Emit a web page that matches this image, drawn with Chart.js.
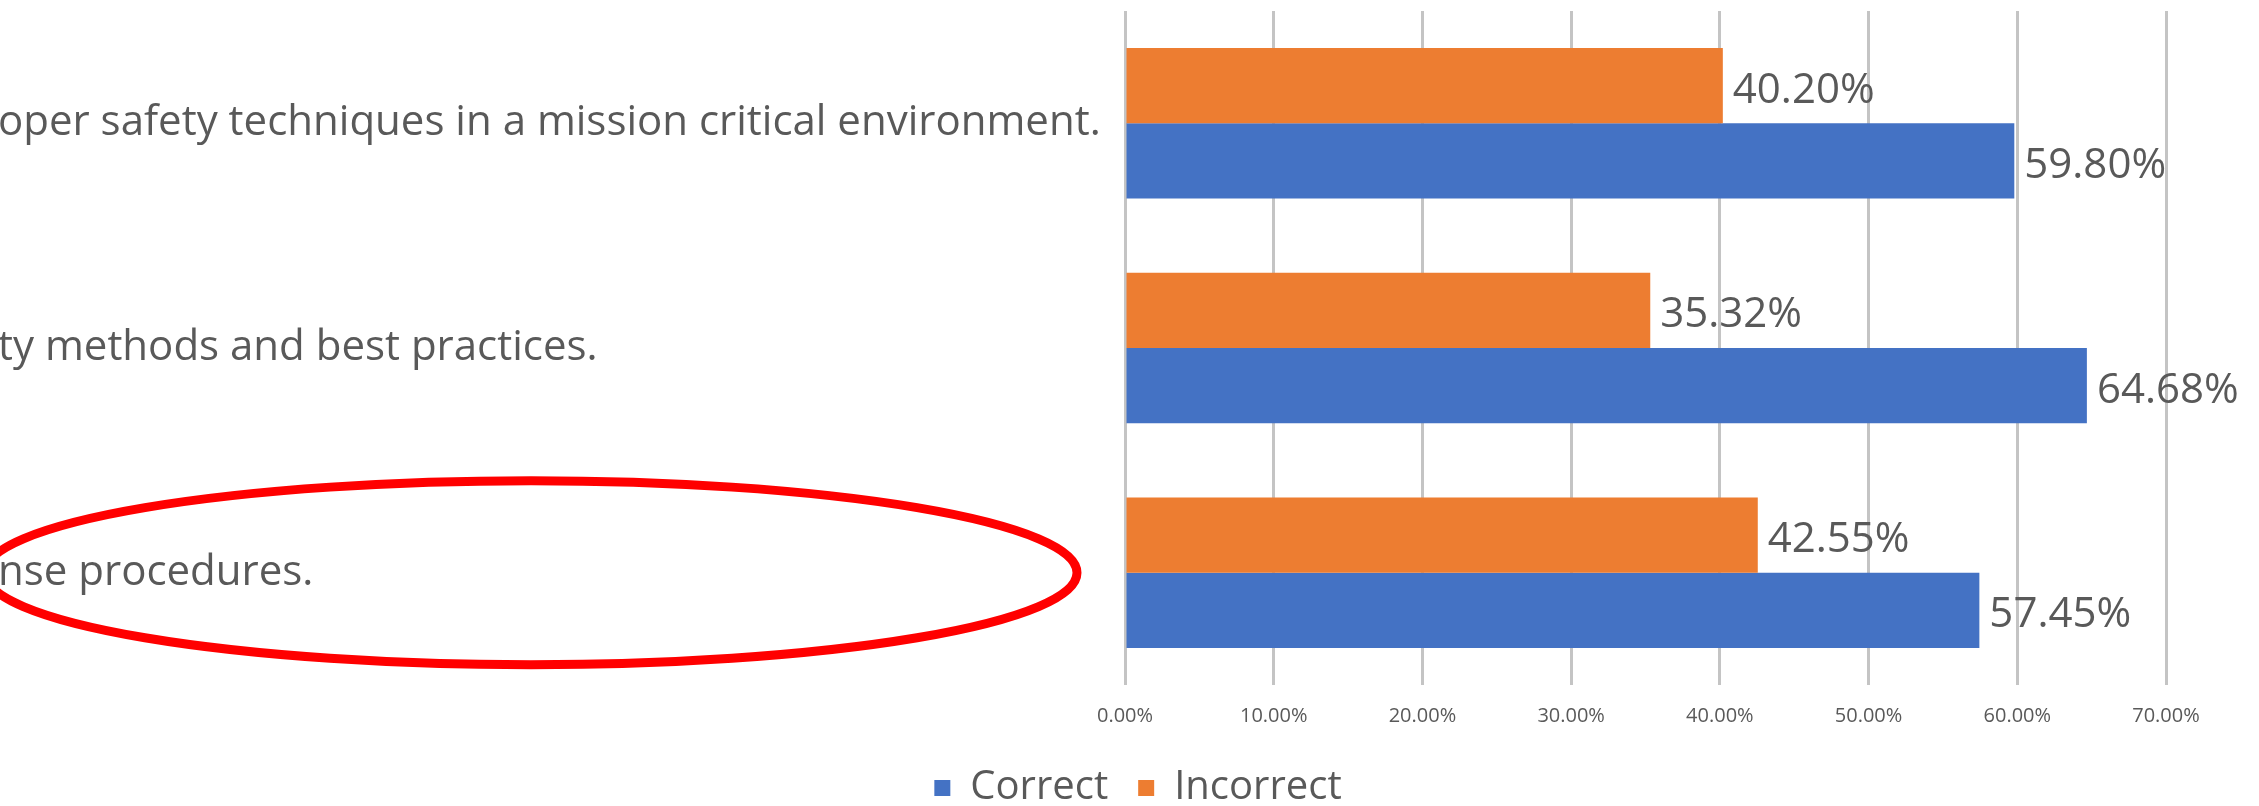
<!DOCTYPE html>
<html>
<head>
<meta charset="utf-8">
<script src="https://cdn.jsdelivr.net/npm/chart.js@4.4.1/dist/chart.umd.min.js"></script>
<style>
  html, body { margin: 0; padding: 0; background: #fff; }
  #wrap { position: relative; width: 2259px; height: 806px; overflow: hidden; }
  #surveyChart { position: absolute; left: -2px; top: 0; }
</style>
</head>
<body>
<div id="wrap">
  <canvas id="surveyChart" width="2261" height="806"></canvas>
</div>
<script>
// data (top to bottom)
const categories = [
    'oper safety techniques in a mission critical environment.',
    'ty methods and best practices.',
    'nse procedures.'
];
const correctValues = [59.80, 64.68, 57.45];
const incorrectValues = [40.20, 35.32, 42.55];
const tickLabels = ['0.00%', '10.00%', '20.00%', '30.00%', '40.00%', '50.00%', '60.00%', '70.00%'];

const textGrey = '#595959';

// value labels at the end of each bar
const barValueLabels = {
    id: 'barValueLabels',
    afterDatasetsDraw(chart) {
        const ctx = chart.ctx;
        ctx.save();
        ctx.font = '42px "Open Sans"';
        ctx.fillStyle = textGrey;
        ctx.textAlign = 'left';
        ctx.textBaseline = 'middle';
        chart.data.datasets.forEach((ds, i) => {
            chart.getDatasetMeta(i).data.forEach((bar, j) => {
                ctx.fillText(ds.data[j].toFixed(2) + '%', bar.x + 10, bar.y + 5);
            });
        });
        ctx.restore();
    }
};

// hand drawn red ring round the last category label
const redRing = {
    id: 'redRing',
    afterDraw(chart) {
        const ctx = chart.ctx;
        const cy = chart.scales.y.getPixelForValue(2);
        ctx.save();
        ctx.strokeStyle = '#ff0000';
        ctx.lineWidth = 9;
        ctx.beginPath();
        ctx.ellipse(533, cy, 546, 92, 0, 0, Math.PI * 2);
        ctx.stroke();
        ctx.restore();
    }
};

// legend sits a bit right of and lower than chart.js puts it
const legendNudge = {
    id: 'legendNudge',
    afterLayout(chart) {
        const l = chart.legend;
        l.left += 56; l.right += 56;
        l.top += 12; l.bottom += 12;
    }
};

const ctx = document.getElementById('surveyChart').getContext('2d');
const surveyChart = new Chart(ctx, {
    type: 'bar',
    data: {
        labels: categories,
        datasets: [{
            label: 'Incorrect',
            data: incorrectValues,
            backgroundColor: '#ED7D31'
        }, {
            label: 'Correct',
            data: correctValues,
            backgroundColor: '#4472C4'
        }]
    },
    options: {
        indexAxis: 'y',
        responsive: false,
        animation: false,
        devicePixelRatio: 1,
        categoryPercentage: 0.67,
        barPercentage: 1.0,
        layout: {
            padding: { left: 0, right: 93, top: 11, bottom: 0 }
        },
        scales: {
            x: {
                min: 0,
                max: 70,
                ticks: {
                    stepSize: 10,
                    padding: 19,
                    color: textGrey,
                    font: { family: 'Open Sans', size: 20 },
                    callback: function(value, index) {
                        return tickLabels[index];
                    }
                },
                grid: {
                    color: '#c4c4c4',
                    lineWidth: 3,
                    drawTicks: false
                },
                border: { display: false },
                afterFit: function(scale) { scale.height = 41; }
            },
            y: {
                ticks: {
                    crossAlign: 'far',
                    padding: 0,
                    color: textGrey,
                    font: { family: 'Open Sans', size: 42 }
                },
                grid: { display: false, drawTicks: false },
                border: { display: false },
                afterFit: function(scale) {
                    scale.width = 1127;
                    scale.paddingTop = 0;
                    scale.paddingBottom = 0;
                }
            }
        },
        plugins: {
            legend: {
                position: 'bottom',
                reverse: true,
                labels: {
                    boxWidth: 16,
                    boxHeight: 16,
                    padding: 30,
                    color: textGrey,
                    font: { family: 'Open Sans', size: 40 }
                }
            },
            tooltip: { enabled: false }
        }
    },
    plugins: [barValueLabels, redRing, legendNudge]
});
</script>
</body>
</html>
